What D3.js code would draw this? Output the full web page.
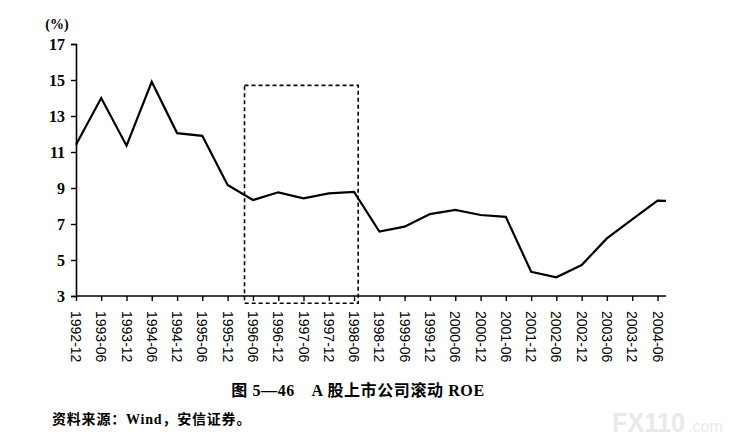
<!DOCTYPE html>
<html>
<head>
<meta charset="utf-8">
<script src="https://cdn.jsdelivr.net/npm/d3@7"></script>
<style>
  html, body { margin: 0; padding: 0; background: #fff; }
  svg { display: block; }
</style>
</head>
<body>
<svg id="chart" width="737" height="445"></svg>
<script>
// ---- data ----
const months = ["1992-12","1993-06","1993-12","1994-06","1994-12","1995-06","1995-12",
  "1996-06","1996-12","1997-06","1997-12","1998-06","1998-12","1999-06","1999-12",
  "2000-06","2000-12","2001-06","2001-12","2002-06","2002-12","2003-06","2003-12",
  "2004-06","2004-08"];
const roe = [11.4, 14.0, 11.35, 14.9, 12.05, 11.9, 9.17,
  8.33, 8.76, 8.43, 8.7, 8.78, 6.58, 6.85, 7.55,
  7.78, 7.5, 7.4, 4.35, 4.04, 4.72, 6.2, 7.26,
  8.3, 8.28];
const tickLabels = months.slice(0, 24);
const yTicks = [3, 5, 7, 9, 11, 13, 15, 17];
const highlightPeriod = ["1996-04", "1998-07"];
const highlightRange = [2.6, 14.7];
const yUnit = "(%)";
const caption = "图 5—46　A 股上市公司滚动 ROE";
const source = "资料来源：Wind，安信证券。";

// ---- chart ----
const parse = d3.timeParse("%Y-%m");
const svg = d3.select("#chart");
const x = d3.scaleTime().domain([parse(months[0]), parse(months[months.length - 1])]).range([76, 666]);
const y = d3.scaleLinear().domain([3, 17]).range([296, 44]);
const serifCJK = "'Liberation Serif', 'Noto Sans CJK SC', serif";

// y axis
const yAxis = svg.append("g").attr("transform", "translate(76,0)")
  .call(d3.axisLeft(y).tickValues(yTicks).tickSize(5).tickPadding(6));
yAxis.select(".domain").attr("stroke", "#000").attr("stroke-width", 1.6);
yAxis.selectAll(".tick line").attr("stroke", "#000").attr("stroke-width", 1.4);
yAxis.selectAll(".tick text")
  .attr("font-family", "'Liberation Serif', 'DejaVu Serif', serif")
  .attr("font-weight", "bold").attr("font-size", 16).attr("fill", "#000");

svg.append("text").attr("x", 57).attr("y", 29).attr("text-anchor", "middle")
  .attr("font-family", "'Liberation Serif', serif").attr("font-weight", "bold")
  .attr("font-size", 14).text(yUnit);

// x axis
const xAxis = svg.append("g").attr("transform", "translate(0,296)")
  .call(d3.axisBottom(x).tickValues(tickLabels.map(parse)).tickSize(5).tickFormat(() => ""));
xAxis.select(".domain").attr("stroke", "#000").attr("stroke-width", 1.6)
  .attr("d", `M${x.range()[0]},0H${x.range()[1]}`);
xAxis.selectAll(".tick line").attr("stroke", "#000").attr("stroke-width", 1.4);

svg.append("g").selectAll("text").data(tickLabels).join("text")
  .attr("transform", d => `translate(${x(parse(d))},311) rotate(90)`)
  .attr("dy", "0.35em")
  .attr("font-family", "'Liberation Sans', Arial, sans-serif")
  .attr("font-size", 14).attr("fill", "#000")
  .text(d => d);

// highlight box
svg.append("rect")
  .attr("x", x(parse(highlightPeriod[0])))
  .attr("y", y(highlightRange[1]))
  .attr("width", x(parse(highlightPeriod[1])) - x(parse(highlightPeriod[0])))
  .attr("height", y(highlightRange[0]) - y(highlightRange[1]))
  .attr("fill", "none").attr("stroke", "#000").attr("stroke-width", 1.6)
  .attr("stroke-dasharray", "4,3");

// line
const line = d3.line().x((d, i) => x(parse(months[i]))).y(d => y(d));
svg.append("path").datum(roe).attr("d", line)
  .attr("fill", "none").attr("stroke", "#000").attr("stroke-width", 2.2)
  .attr("stroke-linejoin", "miter");

// caption & source
svg.append("text").attr("x", 358).attr("y", 396).attr("text-anchor", "middle")
  .attr("font-family", serifCJK).attr("font-weight", "bold")
  .attr("font-size", 16).attr("letter-spacing", 0.6).text(caption);
svg.append("text").attr("x", 52).attr("y", 424)
  .attr("font-family", serifCJK).attr("font-weight", "bold")
  .attr("font-size", 14).attr("letter-spacing", 0.8).text(source);

// watermark
svg.append("text").attr("x", 612).attr("y", 432)
  .attr("font-family", "'Liberation Sans', Arial, sans-serif").attr("font-weight", "bold")
  .attr("font-size", 27).attr("fill", "#e9e9e9")
  .attr("textLength", 73).attr("lengthAdjust", "spacingAndGlyphs").text("FX110");
svg.append("text").attr("x", 688).attr("y", 432)
  .attr("font-family", "'Liberation Sans', Arial, sans-serif")
  .attr("font-size", 16).attr("fill", "#e9e9e9")
  .attr("textLength", 35).attr("lengthAdjust", "spacingAndGlyphs").text(".com");
</script>
</body>
</html>
